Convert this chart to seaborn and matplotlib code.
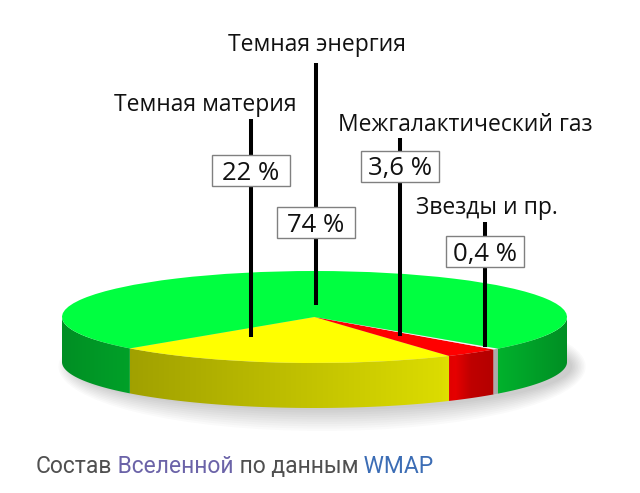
import numpy as np
import matplotlib
matplotlib.use("Agg")
import matplotlib.pyplot as plt
import seaborn as sns
from matplotlib.patches import Rectangle, Ellipse, Polygon

# ---------------- data ----------------
categories = ["Темная материя", "Межгалактический газ", "Звезды и пр.", "Темная энергия"]
shares = [22, 3.6, 0.4, 74]
pct_labels = ["22 %", "3,6 %", "0,4 %", "74 %"]
top_colors = ["#FFFF00", "#FF0000", "#F4F4F4", "#00FF40"]
caption_parts = ["Состав", " Вселенной", " по данным", " WMAP"]
caption_colors = ["#505050", "#6B63A8", "#505050", "#3C6DB5"]

# ---------------- layout (pixels) ----------------
W, H = 640, 493
CX, CY, RX, RY, DEPTH = 314.5, 317, 252.5, 46, 45
START = 223.0
line_x = [251, 400, 485, 316]
line_top = [119, 138, 222, 63]
line_bottom = [337, 336, 347, 305]
box_cy = [170.5, 166, 251.5, 222.5]
name_xy = [(205, 102), (465, 122), (487, 205), (317, 42)]
BOX_W, BOX_H = 78, 31

sns.set_theme(style="white")
plt.rcParams['font.family'] = ['Open Sans', 'DejaVu Sans']

fig = plt.figure(figsize=(W / 100, H / 100), dpi=100)
fig.patch.set_facecolor('white')

t = DEPTH / RY
pax = fig.add_axes([(CX - RX) / W, (H - (CY + RY + DEPTH)) / H, 2 * RX / W, (2 * RY + DEPTH) / H])
wedges, _ = pax.pie(shares, colors=top_colors, startangle=START, counterclock=True,
                    radius=1, center=(0, 0), wedgeprops=dict(linewidth=0, zorder=3))
pax.set_aspect('auto')
pax.set_xlim(-1, 1)
pax.set_ylim(-1 - t, 1)
pax.axis('off')


def shade(x):
    return np.interp(x, [-1.0, -0.73, 0.5, 0.56, 0.62, 1.0], [0.56, 0.63, 0.86, 0.9, 0.75, 0.56])


# side walls of the cylinder (front half only), shaded by a horizontal gradient
xs = np.linspace(-1, 1, 600)
for w, c in zip(wedges, top_colors):
    base = np.array(matplotlib.colors.to_rgb(c))
    th1, th2 = w.theta1, w.theta2
    for lo, hi in [(180, 360), (540, 720), (-180, 0)]:
        a0, a1 = max(th1, lo), min(th2, hi)
        if a1 <= a0:
            continue
        angs = np.radians(np.linspace(a0, a1, 200))
        top = np.column_stack([np.cos(angs), np.sin(angs)])
        bot = np.column_stack([np.cos(angs[::-1]), np.sin(angs[::-1]) - t])
        poly = Polygon(np.vstack([top, bot]), closed=True, facecolor='none', edgecolor='none')
        pax.add_patch(poly)
        img = np.clip(shade(xs)[None, :, None] * base[None, None, :], 0, 1)
        im = pax.imshow(img, extent=(-1, 1, -1 - t, 0), aspect='auto', zorder=2,
                        interpolation='bilinear')
        im.set_clip_path(poly)

pax.set_xlim(-1, 1)
pax.set_ylim(-1 - t, 1)

# soft shadow under the disc
for i in range(10):
    pax.add_patch(Ellipse((0.03, -t - 0.1), 2 * (0.99 + 0.006 * i), 2 * (0.95 + 0.05 * i),
                          color='black', alpha=0.018, lw=0, zorder=0, clip_on=False))

# overlay for annotations
oax = fig.add_axes([0, 0, 1, 1])
oax.set_xlim(0, W)
oax.set_ylim(H, 0)
oax.axis('off')
oax.patch.set_alpha(0)

for name, pct, x, y0, y1, bc, (nx, ny) in zip(categories, pct_labels, line_x, line_top,
                                              line_bottom, box_cy, name_xy):
    oax.plot([x, x], [y0, y1], color='black', lw=2.9, solid_capstyle='butt', zorder=2)
    oax.add_patch(Rectangle((x - BOX_W / 2, bc - BOX_H / 2), BOX_W, BOX_H, facecolor='white',
                            edgecolor='#808080', lw=1.0, zorder=3))
    oax.text(x, bc, pct, ha='center', va='center_baseline', fontsize=18.5, color='#111111', zorder=4)
    oax.text(nx, ny, name, ha='center', va='center_baseline', fontsize=16.5, color='#111111', zorder=4)

# caption with coloured words
prev = oax.text(36, 478, caption_parts[0], ha='left', va='bottom', fontsize=16.5,
                color=caption_colors[0], family=['Roboto', 'DejaVu Sans'])
for part, col in zip(caption_parts[1:], caption_colors[1:]):
    prev = oax.annotate(part, xy=(1, 0), xycoords=prev, ha='left', va='bottom', fontsize=16.5,
                        color=col, family=['Roboto', 'DejaVu Sans'])

fig.savefig('out.png', dpi=100, facecolor='white')
